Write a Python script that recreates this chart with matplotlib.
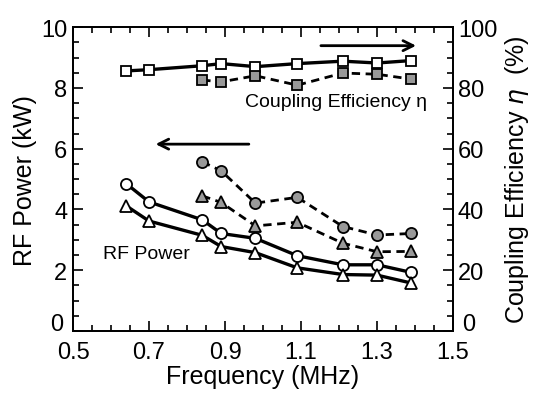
import matplotlib
matplotlib.use('Agg')
import matplotlib.pyplot as plt
import matplotlib.transforms as mtransforms
from matplotlib.ticker import MultipleLocator, FuncFormatter

plt.rcParams['font.family'] = ['Liberation Sans', 'DejaVu Sans']

# frequency points (MHz)
freq_full = [0.64, 0.70, 0.84, 0.89, 0.98, 1.09, 1.21, 1.30, 1.39]
freq_part = [0.84, 0.89, 0.98, 1.09, 1.21, 1.30, 1.39]

# RF power (kW)
power_circ_solid = [4.85, 4.25, 3.66, 3.21, 3.05, 2.48, 2.18, 2.18, 1.93]
power_tri_solid = [4.12, 3.62, 3.15, 2.78, 2.58, 2.08, 1.86, 1.84, 1.58]
power_circ_dash = [5.57, 5.27, 4.21, 4.40, 3.44, 3.16, 3.21]
power_tri_dash = [4.45, 4.23, 3.46, 3.58, 2.89, 2.61, 2.62]

# coupling efficiency (%)
eta_solid = [85.6, 86.0, 87.3, 88.0, 87.0, 88.0, 88.8, 88.2, 89.0]
eta_dash = [82.6, 82.0, 84.0, 80.9, 84.9, 84.5, 82.9]

fig = plt.figure(figsize=(5.33, 4.02), dpi=100)
ax1 = fig.add_axes([0.137, 0.174, 0.713, 0.756])
ax2 = ax1.twinx()

gray = '#999999'
solid = dict(color='black', lw=2.4, markerfacecolor='white', markeredgecolor='black',
             markeredgewidth=1.3, zorder=3)
dash = dict(color='black', lw=2.0, ls=(0, (3, 2)), markerfacecolor=gray,
            markeredgecolor='black', markeredgewidth=1.3, zorder=3)

ax1.plot(freq_full, power_circ_solid, marker='o', ms=8, **solid)
ax1.plot(freq_full, power_tri_solid, marker='^', ms=8, **solid)
ax1.plot(freq_part, power_circ_dash, marker='o', ms=8, **dash)
ax1.plot(freq_part, power_tri_dash, marker='^', ms=8, **dash)

ax2.plot(freq_full, eta_solid, marker='s', ms=7.5, **solid)
ax2.plot(freq_part, eta_dash, marker='s', ms=7.5, **dash)

ax1.set_xlim(0.5, 1.5)
ax1.set_ylim(0, 10)
ax2.set_ylim(0, 100)

ax1.set_xticks([0.5, 0.7, 0.9, 1.1, 1.3, 1.5])
ax1.set_xticklabels(['0.5', '0.7', '0.9', '1.1', '1.3', '1.5'])
ax1.xaxis.set_minor_locator(MultipleLocator(0.05))
ax1.yaxis.set_major_locator(MultipleLocator(2))
ax1.yaxis.set_minor_locator(MultipleLocator(0.5))
ax2.yaxis.set_major_locator(MultipleLocator(20))
ax2.yaxis.set_minor_locator(MultipleLocator(5))

# the "0" labels are drawn separately, a bit higher, so they clear 0.5 / 1.5
nozero = FuncFormatter(lambda v, p: '' if v == 0 else '%d' % v)
ax1.yaxis.set_major_formatter(nozero)
ax2.yaxis.set_major_formatter(nozero)

ax1.tick_params(which='both', direction='in', top=True, right=False, labelsize=17, width=1.2)
ax1.tick_params(which='major', length=7)
ax1.tick_params(which='minor', length=4)
ax2.tick_params(which='both', direction='in', labelsize=17, width=1.2)
ax2.tick_params(which='major', length=7)
ax2.tick_params(which='minor', length=4)
ax1.tick_params(axis='x', pad=7)
ax1.tick_params(axis='y', pad=4)

left_tr = mtransforms.blended_transform_factory(ax1.transAxes, ax1.transData)
right_tr = mtransforms.blended_transform_factory(ax2.transAxes, ax2.transData)
ax1.text(-0.025, 0.05, '0', transform=left_tr, fontsize=17, ha='right', va='baseline')
ax2.text(1.025, 0.5, '0', transform=right_tr, fontsize=17, ha='left', va='baseline')

for a in (ax1, ax2):
    for s in a.spines.values():
        s.set_linewidth(1.3)

ax1.set_xlabel('Frequency (MHz)', fontsize=18, labelpad=1)
ax1.set_ylabel('RF Power (kW)', fontsize=18, labelpad=3)
ax2.set_ylabel('Coupling Efficiency $\\eta$  (%)', fontsize=18, labelpad=4)

ax1.text(0.953, 7.55, 'Coupling Efficiency \u03b7', fontsize=14, ha='left', va='center')
ax1.text(0.58, 2.55, 'RF Power', fontsize=14, ha='left', va='center')

ax1.annotate('', xy=(1.41, 9.39), xytext=(1.145, 9.39),
             arrowprops=dict(arrowstyle='->', lw=2.0, color='black', mutation_scale=18))
ax1.annotate('', xy=(0.71, 6.15), xytext=(0.97, 6.15),
             arrowprops=dict(arrowstyle='->', lw=2.0, color='black', mutation_scale=18))

fig.savefig('out.png', dpi=100)
